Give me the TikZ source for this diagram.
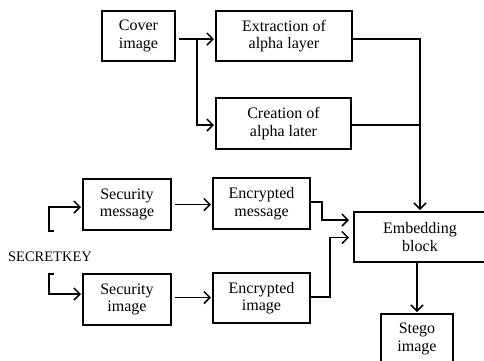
\documentclass[tikz,border=0pt]{standalone}
\usepackage{fontspec}
\setmainfont{Liberation Serif}
\usetikzlibrary{arrows.meta}
\begin{document}
\begin{tikzpicture}[x=1pt,y=-1pt,
  blk/.style={draw,line width=2pt,rectangle,align=center,inner sep=0pt,
     font=\fontsize{16}{17.5}\selectfont},
  ln/.style={line width=1.5pt},
  arr/.style={ln,-{Straight Barb[length=6pt,width=12pt,line width=1.5pt]},shorten >=1pt}]
\clip (0,0) rectangle (484,360);
\useasboundingbox (0,0) rectangle (484,360);
\node[blk,minimum width=73pt,minimum height=50pt] (cover) at (138.5,36) {Cover\\image};
\node[blk,minimum width=136pt,minimum height=50pt] (extr) at (284,36) {Extraction of\\alpha layer};
\node[blk,minimum width=135pt,minimum height=51pt] (creat) at (283.5,123.5) {Creation of\\alpha later};
\node[blk,minimum width=88pt,minimum height=51pt] (secmsg) at (127,204.5) {Security\\message};
\node[blk,minimum width=97pt,minimum height=51pt] (encmsg) at (261.5,203.5) {Encrypted\\message};
\node[blk,minimum width=88pt,minimum height=51pt] (secimg) at (127,299.5) {Security\\image};
\node[blk,minimum width=97pt,minimum height=50pt] (encimg) at (261.5,298) {Encrypted\\image};
\node[blk,minimum width=132pt,minimum height=50pt] (embed) at (420,237) {Embedding\\block};
\node[blk,minimum width=72pt,minimum height=50pt] (stego) at (417,339) {Stego\\image};
\node[font=\fontsize{14.5}{16}\selectfont,inner sep=0pt] (key) at (50,257) {SECRETKEY};
\coordinate (j) at (197,39);
\coordinate (t1) at (54,231);
\coordinate (t2) at (54,274);
\draw[ln] ([yshift=-3pt,xshift=3pt]cover.east) -- (j);
\draw[arr] (j) -- (extr.west |- j);
\draw[arr] (j) |- ([yshift=-1.5pt]creat.west);
\draw[arr] ([yshift=-3pt]extr.east) -| (embed.north);
\draw[ln] ([yshift=-1.5pt]creat.east) -- ([yshift=-1.5pt]creat.east -| embed.north);
\draw[arr,shorten >=4pt] ([yshift=1.5pt]encmsg.east) -- ++(11,0) |- ([yshift=17pt]embed.west);
\draw[arr,shorten >=4pt] ([yshift=1pt]encimg.east) -- ++(19,0) |- ([yshift=-0.5pt]embed.west);
\draw[arr] ([xshift=3pt]secmsg.east) -- (encmsg.west |- secmsg.east);
\draw[arr] ([xshift=3pt,yshift=2pt]secimg.east) -- ([yshift=2pt]encimg.west |- secimg.east);
\draw[arr] (t1) -- ++(-5,0) |- ([yshift=-2.5pt]secmsg.west);
\draw[arr] (t2) -- ++(-5,0) |- ([yshift=5.5pt]secimg.west);
\draw[arr] (embed.south -| stego.north) -- (stego.north);
\end{tikzpicture}
\end{document}
